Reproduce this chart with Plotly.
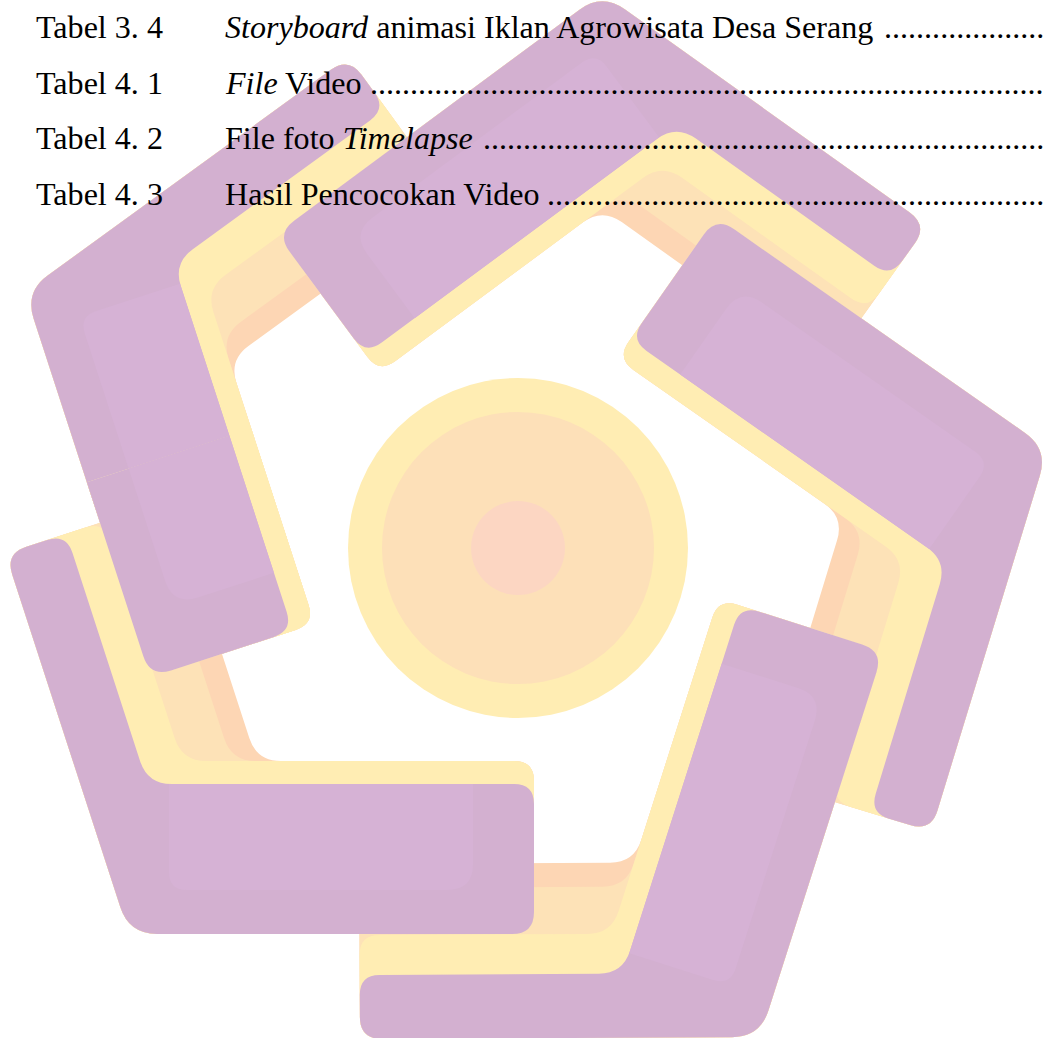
import math
import plotly.graph_objects as go

W, H = 1045, 1038

# ---------------- text content (list of tables) ----------------
row_labels = ["Tabel 3. 4", "Tabel 4. 1", "Tabel 4. 2", "Tabel 4. 3"]
row_titles = [
    "<i>Storyboard</i> animasi Iklan Agrowisata Desa Serang",
    "<i>File</i> Video",
    "File foto <i>Timelapse</i>",
    "Hasil Pencocokan Video",
]
row_baselines = [38, 93.5, 149, 204.5]
leader_starts = [880, 365, 478, 545]

FONT = "Liberation Serif, Times New Roman, serif"
FS = 32.1
LABEL_X = 36
TITLE_X = 225
DOT_W = 0.25 * FS

# ---------------- watermark logo geometry ----------------
unit_corner_x = [129, 760, 1048, 602, 25]
unit_corner_y = [934, 1037, 449, -7, 292]
unit_arm_angle = [0, -72.3, -145, -216.5, -288]
ARM_A_LEN = 405
ARM_B_LEN = 400

layer_tA = [173, 173, 173, 150]
layer_tB = [175, 151, 104, 64]
layer_colors = ["#FDD6B4", "#FDE2B7", "#FFEDB3", "#D3B0D0"]
HIGHLIGHT = "#D6B2D5"

circle_center = (518, 548)
circle_radii = [170, 136, 47]
circle_colors = ["#FFEDB3", "#FDE0B8", "#FCD6C2"]


def rounded_path(pts, radii):
    n = len(pts)
    segs = []
    for i in range(n):
        px, py = pts[i]
        ax, ay = pts[i - 1]
        bx, by = pts[(i + 1) % n]
        da = math.hypot(ax - px, ay - py)
        db = math.hypot(bx - px, by - py)
        r = min(radii[i], da / 2.1, db / 2.1)
        pin = (px + (ax - px) / da * r, py + (ay - py) / da * r)
        pout = (px + (bx - px) / db * r, py + (by - py) / db * r)
        segs.append((pin, (px, py), pout))
    f = lambda p: f"{p[0]:.2f},{p[1]:.2f}"
    d = f"M {f(segs[0][0])} "
    for i, (pin, v, pout) in enumerate(segs):
        if i > 0:
            d += f"L {f(pin)} "
        d += f"Q {f(v)} {f(pout)} "
    return d + "Z"


def frame(k):
    phi = math.radians(unit_arm_angle[k])
    vec = lambda ang: (math.cos(ang), math.sin(ang))
    a = vec(phi)
    b = vec(phi - math.radians(108))
    nA = vec(phi - math.radians(90))
    nB = vec(phi - math.radians(18))
    O = (unit_corner_x[k], unit_corner_y[k])
    return O, a, b, nA, nB


def comb(O, *terms):
    x, y = O
    for s, v in terms:
        x += s * v[0]
        y += s * v[1]
    return (x, y)


def unit_L(k, tA, tB):
    O, a, b, nA, nB = frame(k)
    sA = (tB - math.cos(math.radians(72)) * tA) / math.cos(math.radians(18))
    pts = [
        O,
        comb(O, (ARM_A_LEN, a)),
        comb(O, (ARM_A_LEN, a), (tA, nA)),
        comb(O, (tA, nA), (sA, a)),
        comb(O, (ARM_B_LEN, b), (tB, nB)),
        comb(O, (ARM_B_LEN, b)),
    ]
    return rounded_path(pts, [28, 22, 20, 24, 20, 22])


def arm_a_rect(k, s0, s1, d0, d1, radii):
    O, a, b, nA, nB = frame(k)
    pts = [comb(O, (s0, a), (d0, nA)), comb(O, (s1, a), (d0, nA)),
           comb(O, (s1, a), (d1, nA)), comb(O, (s0, a), (d1, nA))]
    return rounded_path(pts, radii)


shapes = []
# central circles
cx, cy = circle_center
for r, col in zip(circle_radii, circle_colors):
    shapes.append(dict(type="circle", xref="x", yref="y", x0=cx - r, x1=cx + r,
                       y0=cy - r, y1=cy + r, fillcolor=col, line=dict(width=0),
                       layer="below"))


def path_shape(d, col):
    return dict(type="path", path=d, xref="x", yref="y", fillcolor=col,
                line=dict(width=0), layer="below")


def draw_unit(k):
    for tA, tB, col in zip(layer_tA, layer_tB, layer_colors):
        shapes.append(path_shape(unit_L(k, tA, tB), col))
    shapes.append(path_shape(arm_a_rect(k, 40, ARM_A_LEN - 61, 44, 150,
                                         [18, 26, 0, 0]), HIGHLIGHT))


# pinwheel stacking order
for k in [4, 3, 2, 1, 0]:
    draw_unit(k)
# bring the end of the top-left unit's long arm back over the bottom-left unit
k = 4
shapes.append(path_shape(arm_a_rect(k, 200, ARM_A_LEN, 0, 173, [0, 22, 20, 0]), layer_colors[2]))
shapes.append(path_shape(arm_a_rect(k, 200, ARM_A_LEN, 0, 150, [0, 22, 20, 0]), layer_colors[3]))
shapes.append(path_shape(arm_a_rect(k, 200, ARM_A_LEN - 61, 44, 150, [0, 26, 0, 0]), HIGHLIGHT))

annotations = []
ASC = 0.891 * FS
for lab, title, base, ds in zip(row_labels, row_titles, row_baselines, leader_starts):
    for txt, x, anchor in [(lab, LABEL_X, "left"), (title, TITLE_X, "left")]:
        annotations.append(dict(text=txt, x=x, y=base - ASC, xref="x", yref="y",
                                xanchor=anchor, yanchor="top", showarrow=False,
                                borderpad=0, borderwidth=0,
                                font=dict(family=FONT, size=FS, color="#000000")))
    n = int((W - 1 - ds) / DOT_W)
    annotations.append(dict(text="." * n, x=W - 1, y=base - ASC, xref="x", yref="y",
                            xanchor="right", yanchor="top", showarrow=False,
                            borderpad=0, borderwidth=0,
                            font=dict(family=FONT, size=FS, color="#000000")))

fig = go.Figure(go.Scatter(x=[], y=[], mode="markers", showlegend=False))
fig.update_layout(
    width=W, height=H, autosize=False,
    margin=dict(l=0, r=0, t=0, b=0, pad=0),
    paper_bgcolor="white", plot_bgcolor="white",
    xaxis=dict(range=[0, W], visible=False, fixedrange=True),
    yaxis=dict(range=[H, 0], visible=False, fixedrange=True),
    shapes=shapes, annotations=annotations, showlegend=False,
)
fig.write_html("out.html", config={"displayModeBar": False},
               post_script="document.body.style.margin='0';document.body.style.overflow='hidden';")
